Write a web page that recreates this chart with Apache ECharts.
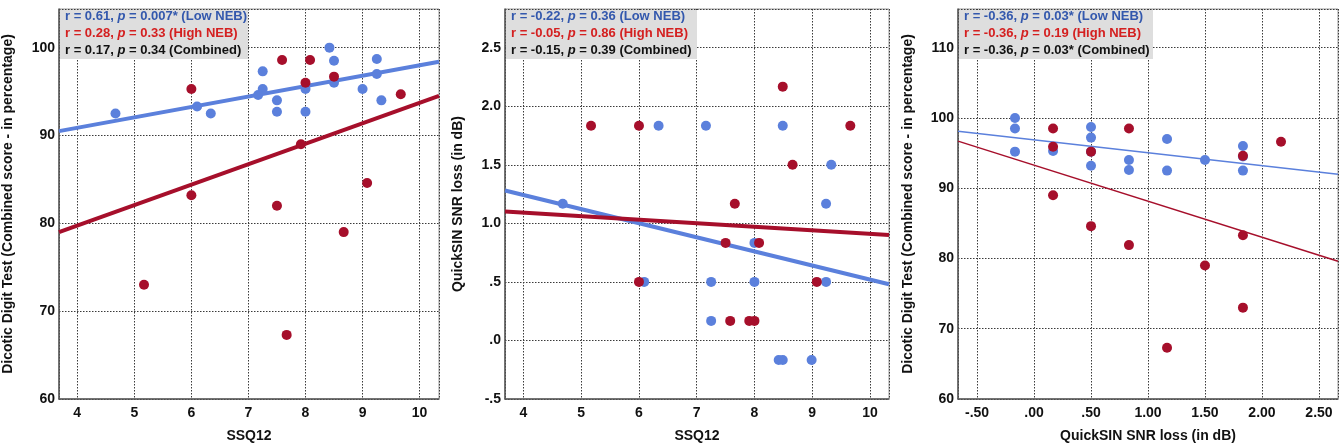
<!DOCTYPE html>
<html>
<head>
<meta charset="utf-8">
<script src="https://cdn.jsdelivr.net/npm/echarts@6/dist/echarts.min.js"></script>
<style>html,body{margin:0;padding:0;background:#fff;}#c{width:1344px;height:448px;}</style>
</head>
<body>
<div id="c"></div>
<script>
// ---------- Panel 1: SSQ12 vs Dicotic Digit Test ----------
const p1LowX  = [4.67, 6.10, 6.34, 7.25, 7.25, 7.17, 7.50, 7.50, 8.00, 8.00, 8.42, 8.50, 8.50, 9.00, 9.25, 9.25, 9.33];
const p1LowY  = [92.5, 93.3, 92.5, 97.3, 95.3, 94.6, 94.0, 92.7, 95.3, 92.7, 100.0, 98.5, 96.0, 95.3, 98.7, 97.0, 94.0];
const p1HighX = [6.00, 7.59, 8.08, 8.00, 8.50, 9.67, 7.92, 6.00, 7.50, 9.08, 8.67, 5.17, 7.67];
const p1HighY = [95.3, 98.6, 98.6, 96.0, 96.7, 94.7, 89.0, 83.2, 82.0, 84.6, 79.0, 73.0, 67.3];
const p1FitLowX = [3.68, 10.34], p1FitLowY = [90.5, 98.4];
const p1FitHighX = [3.68, 10.34], p1FitHighY = [79.0, 94.5];

// ---------- Panel 2: SSQ12 vs QuickSIN ----------
const p2LowX  = [4.68, 6.34, 7.16, 8.49, 9.33, 9.24, 8.00, 6.09, 7.25, 8.00, 9.24, 7.25, 8.42, 8.49, 8.99];
const p2LowY  = [1.167, 1.833, 1.833, 1.833, 1.5, 1.167, 0.833, 0.5, 0.5, 0.5, 0.5, 0.167, -0.167, -0.167, -0.167];
const p2HighX = [5.17, 6.00, 8.49, 9.66, 8.66, 7.66, 7.50, 8.08, 6.00, 9.08, 7.58, 7.91, 8.00];
const p2HighY = [1.833, 1.833, 2.167, 1.833, 1.5, 1.167, 0.833, 0.833, 0.5, 0.5, 0.167, 0.167, 0.167];
const p2FitLowX = [3.68, 10.33], p2FitLowY = [1.28, 0.48];
const p2FitHighX = [3.68, 10.33], p2FitHighY = [1.10, 0.90];

// ---------- Panel 3: QuickSIN vs Dicotic Digit Test ----------
const p3LowX  = [-0.167, -0.167, -0.167, 0.167, 0.5, 0.5, 0.5, 0.5, 0.833, 0.833, 1.167, 1.167, 1.5, 1.833, 1.833, 1.833];
const p3LowY  = [100.0, 98.5, 95.2, 95.3, 98.7, 97.2, 93.2, 95.2, 94.0, 92.6, 97.0, 92.5, 94.0, 96.0, 92.5, 94.5];
const p3HighX = [0.167, 0.167, 0.167, 0.5, 0.5, 0.833, 0.833, 1.167, 1.5, 1.833, 1.833, 1.833, 2.167];
const p3HighY = [98.5, 95.9, 89.0, 95.2, 84.6, 98.5, 81.9, 67.3, 79.0, 94.6, 83.3, 73.0, 96.6];
const p3FitLowX = [-0.667, 2.667], p3FitLowY = [98.1, 92.0];
const p3FitHighX = [-0.667, 2.667], p3FitHighY = [96.7, 79.6];

// ---------- Text ----------
const xTitles = ['SSQ12', 'SSQ12', 'QuickSIN SNR loss (in dB)'];
const yTitles = ['Dicotic Digit Test (Combined score - in percentage)', 'QuickSIN SNR loss (in dB)', 'Dicotic Digit Test (Combined score - in percentage)'];
const statLow      = [['0.61', '0.007*'], ['-0.22', '0.36'], ['-0.36', '0.03*']];
const statHigh     = [['0.28', '0.33'], ['-0.05', '0.86'], ['-0.36', '0.19']];
const statCombined = [['0.17', '0.34'], ['-0.15', '0.39'], ['-0.36', '0.03*']];
const groupNames = ['Low NEB', 'High NEB', 'Combined'];

// ---------- Styling ----------
const BLUE = '#5b80dc', RED = '#a60f2b';
const TXT_BLUE = '#3358ad', TXT_RED = '#d42020', TXT_BLK = '#111';
const FONT = '"Liberation Sans", Arial, sans-serif';

const grids = [
  {left: 59, top: 9, width: 380, height: 390},
  {left: 505, top: 9, width: 384, height: 390},
  {left: 958, top: 9, width: 380, height: 390}
];
const xRanges = [[3.68, 10.34, 1], [3.68, 10.33, 1], [-0.667, 2.667, 0.5]];
const yRanges = [[60, 104.4, 10], [-0.5, 2.83, 0.5], [60, 115.5, 10]];
const yNameGaps = [44, 40, 43];
const fmtX = [v => String(v), v => String(v), v => v.toFixed(2).replace(/^(-?)0\./, '$1.')];
const fmtY = [v => String(v), v => v.toFixed(1).replace(/^(-?)0\./, '$1.'), v => String(v)];

const split = {show: true, lineStyle: {color: '#3a3a3a', type: [1.5, 1.5], width: 1}};
function zip(a, b) { return a.map((v, i) => [v, b[i]]); }

const xAxis = [], yAxis = [], series = [];
for (let i = 0; i < 3; i++) {
  xAxis.push({
    type: 'value', gridIndex: i, min: xRanges[i][0], max: xRanges[i][1],
    minInterval: xRanges[i][2], maxInterval: xRanges[i][2],
    name: xTitles[i], nameLocation: 'middle', nameGap: 30,
    nameTextStyle: {fontFamily: FONT, fontWeight: 'bold', fontSize: 14, color: '#111'},
    axisLine: {show: true, onZero: false, lineStyle: {color: '#555', width: 1.5}},
    axisTick: {show: false},
    axisLabel: {showMinLabel: false, showMaxLabel: false, margin: 7, formatter: fmtX[i],
      fontFamily: FONT, fontWeight: 'bold', fontSize: 14, color: '#111'},
    splitLine: split
  });
  yAxis.push({
    type: 'value', gridIndex: i, min: yRanges[i][0], max: yRanges[i][1], interval: yRanges[i][2],
    name: yTitles[i], nameLocation: 'middle', nameGap: yNameGaps[i], nameRotate: 90,
    nameTextStyle: {fontFamily: FONT, fontWeight: 'bold', fontSize: 14, color: '#111'},
    axisLine: {show: true, onZero: false, lineStyle: {color: '#555', width: 1.5}},
    axisTick: {show: false},
    axisLabel: {showMaxLabel: false, margin: 4, formatter: fmtY[i],
      fontFamily: FONT, fontWeight: 'bold', fontSize: 14, color: '#111'},
    splitLine: split
  });
}

const pts = [
  [p1LowX, p1LowY, p1HighX, p1HighY, p1FitLowX, p1FitLowY, p1FitHighX, p1FitHighY, 4],
  [p2LowX, p2LowY, p2HighX, p2HighY, p2FitLowX, p2FitLowY, p2FitHighX, p2FitHighY, 4],
  [p3LowX, p3LowY, p3HighX, p3HighY, p3FitLowX, p3FitLowY, p3FitHighX, p3FitHighY, 1.5]
];
pts.forEach((p, i) => {
  series.push({type: 'line', xAxisIndex: i, yAxisIndex: i, data: zip(p[4], p[5]), showSymbol: false,
    lineStyle: {color: BLUE, width: p[8]}, z: 2, silent: true});
  series.push({type: 'line', xAxisIndex: i, yAxisIndex: i, data: zip(p[6], p[7]), showSymbol: false,
    lineStyle: {color: RED, width: p[8]}, z: 2, silent: true});
  series.push({type: 'scatter', xAxisIndex: i, yAxisIndex: i, data: zip(p[0], p[1]), symbolSize: 10,
    itemStyle: {color: BLUE, opacity: 1}, z: 3});
  series.push({type: 'scatter', xAxisIndex: i, yAxisIndex: i, data: zip(p[2], p[3]), symbolSize: 10,
    itemStyle: {color: RED, opacity: 1}, z: 4});
});

// stats boxes
const boxW = [188, 191, 194];
const graphic = [];
function statLine(s, name) {
  return '{a|r = ' + s[0] + ', }{i|p}{a| = ' + s[1] + ' (' + name + ')}';
}
for (let i = 0; i < 3; i++) {
  const g = grids[i];
  graphic.push({type: 'rect', left: g.left + 1, top: g.top + 1, z: 10,
    shape: {width: boxW[i], height: 49}, style: {fill: '#dedede'}});
  const rows = [statLow[i], statHigh[i], statCombined[i]];
  const cols = [TXT_BLUE, TXT_RED, TXT_BLK];
  rows.forEach((s, k) => {
    graphic.push({type: 'text', left: g.left + 6, top: g.top + 1 + k * 17, z: 11,
      style: {
        text: statLine(s, groupNames[k]),
        rich: {
          a: {fontFamily: FONT, fontSize: 13, fontWeight: 'bold', fill: cols[k], lineHeight: 16},
          i: {fontFamily: FONT, fontSize: 13, fontWeight: 'bold', fontStyle: 'italic', fill: cols[k], lineHeight: 16}
        }
      }});
  });
}

const chart = echarts.init(document.getElementById('c'), null, {renderer: 'canvas'});
chart.setOption({
  animation: false,
  backgroundColor: '#fff',
  grid: grids.map(g => Object.assign({show: true, borderColor: '#9a9a9a', borderWidth: 1, backgroundColor: 'transparent'}, g)),
  xAxis, yAxis, series, graphic
});
</script>
</body>
</html>
